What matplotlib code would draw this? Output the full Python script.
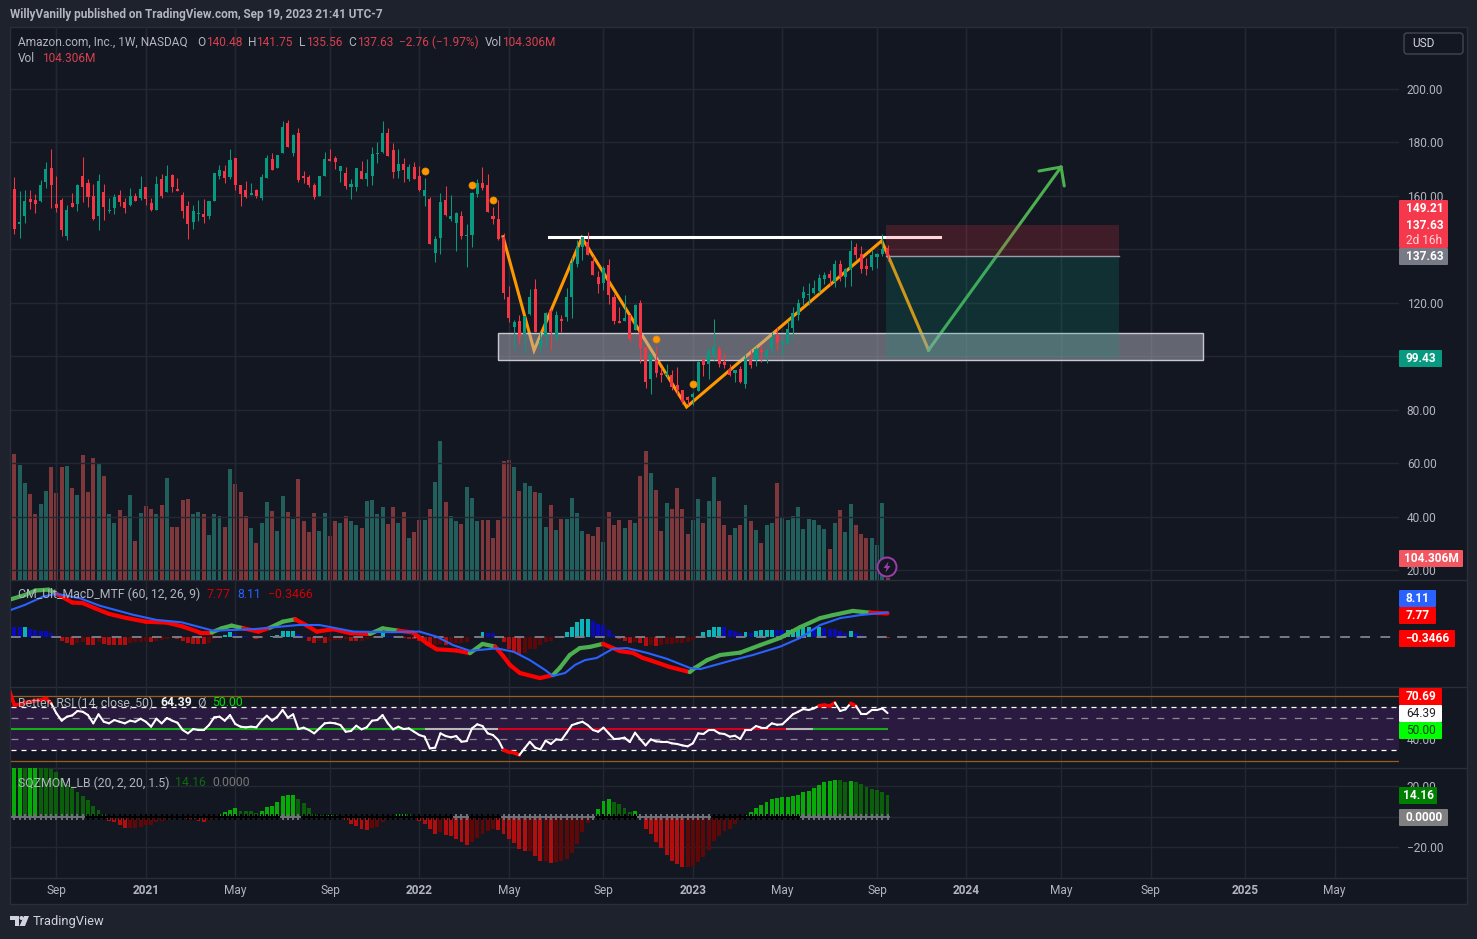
import matplotlib
matplotlib.use("Agg")
import matplotlib.pyplot as plt
import numpy as np
from matplotlib.collections import LineCollection
from matplotlib.patches import Rectangle, FancyBboxPatch, Circle, Polygon

plt.rcParams['font.family'] = ['Roboto', 'DejaVu Sans']
plt.rcParams['lines.scale_dashes'] = False

# weekly candles
opens = [146.2,162.5,149.4,152.4,158.8,158.4,158.0,165.2,170.4,156.9,
         158.4,144.9,157.3,156.9,167.4,164.8,159.9,152.4,161.4,154.3,
         155.4,160.3,157.6,156.5,159.9,159.2,163.3,157.3,154.7,166.3,
         161.4,167.8,162.5,160.3,156.2,150.2,153.2,153.2,152.4,158.0,
         167.4,169.3,167.0,174.2,164.0,162.2,160.3,162.2,159.2,166.7,
         173.8,170.4,176.0,187.3,176.0,183.5,167.4,167.0,164.0,159.9,
         167.4,173.8,174.2,169.3,168.5,163.3,163.3,169.3,166.3,167.4,
         175.7,176.4,183.5,177.2,169.3,171.9,166.3,170.8,167.4,159.9,
         158.8,138.5,144.2,158.4,151.3,149.8,152.4,144.9,145.3,160.6,
         164.8,164.0,152.4,151.3,144.7,122.1,110.8,113.1,108.2,115.7,
         125.1,103.7,107.5,116.8,107.1,113.8,114.6,122.1,134.5,140.8,
         142.7,135.6,129.6,127.3,134.1,122.1,113.1,113.1,115.3,109.7,
         119.8,103.3,91.3,98.5,93.6,92.8,92.8,89.1,87.2,84.6,
         84.9,86.8,98.5,97.0,100.3,102.6,97.7,95.1,93.6,95.1,
         89.5,98.5,98.5,102.2,100.0,102.6,107.8,104.5,104.5,110.5,
         115.3,121.7,122.8,123.6,124.3,128.8,130.7,127.7,134.5,129.6,
         132.6,140.8,138.2,133.7,133.3,137.1,138.2,140.48]
highs = [159.9,166.9,161.8,162.2,162.2,160.7,165.9,172.6,177.5,167.4,
         159.2,156.5,161.0,164.4,174.5,166.3,164.4,168.2,164.4,159.2,
         160.6,162.2,159.2,162.9,161.0,167.4,163.3,159.2,167.4,168.2,
         171.5,168.2,166.7,161.4,158.0,156.5,158.4,158.8,158.0,168.5,
         171.5,171.5,177.5,174.2,164.0,165.5,164.8,162.5,168.2,175.3,
         176.0,175.3,188.0,188.4,183.2,185.4,169.3,167.8,164.8,167.4,
         176.4,177.5,174.9,171.2,170.8,166.3,170.4,173.0,173.8,178.3,
         180.2,188.0,185.4,179.8,177.5,174.2,171.9,172.6,171.2,166.7,
         159.5,144.9,161.0,163.6,160.3,153.9,154.3,149.4,161.4,166.3,
         170.8,168.2,155.8,158.4,146.0,126.2,113.7,115.6,115.0,125.3,
         128.8,109.1,116.5,117.6,116.8,115.3,125.5,137.2,143.5,144.7,
         146.5,137.5,131.8,133.7,136.3,123.2,118.3,122.8,115.3,119.5,
         121.0,103.3,101.1,103.7,95.5,97.0,94.7,95.8,87.2,85.0,
         86.6,98.1,99.2,103.0,113.8,103.7,101.1,97.0,94.7,96.2,
         100.7,102.2,103.3,104.1,102.6,109.0,110.8,105.6,113.1,118.3,
         121.3,126.2,127.3,128.5,130.7,131.5,132.2,136.0,136.0,133.0,
         143.5,142.3,141.2,136.7,139.7,138.6,145.7,141.75]
lows = [146.2,145.7,144.2,149.8,155.0,153.5,157.6,162.9,155.4,153.9,
        144.9,143.4,155.8,154.3,157.7,155.8,150.9,147.2,150.9,153.5,
        153.2,156.2,153.5,156.2,158.0,158.4,156.5,154.3,154.7,159.2,
        161.4,161.4,161.8,151.6,143.8,147.5,150.5,149.8,151.3,158.0,
        166.3,164.8,166.3,162.2,156.2,159.2,160.3,159.2,158.4,166.7,
        169.6,170.4,176.0,178.3,174.9,165.2,164.8,163.3,158.8,159.9,
        167.4,173.0,170.0,165.2,162.5,158.8,161.8,166.3,163.6,164.0,
        172.3,176.0,174.9,166.7,166.7,165.2,165.5,166.3,161.8,156.2,
        141.9,135.2,138.2,152.4,150.5,139.3,143.8,133.3,140.8,159.5,
        162.2,153.9,149.4,143.4,121.5,112.8,102.2,104.7,101.2,115.3,
        109.0,101.2,103.7,102.2,106.0,109.0,113.1,114.2,133.3,136.0,
        137.8,130.3,123.6,124.7,119.5,112.0,112.3,113.1,105.2,109.7,
        97.3,88.0,85.7,92.1,90.2,92.1,87.2,85.3,82.0,81.6,
        81.6,86.8,92.5,91.3,98.5,95.8,95.5,92.5,90.2,89.8,
        88.0,95.5,96.2,97.7,97.3,101.1,102.2,100.7,104.5,106.7,
        113.5,119.1,119.1,123.2,123.6,127.0,126.6,125.8,128.1,125.8,
        126.2,136.3,131.1,130.3,132.2,133.0,137.5,135.56]
closes = [159.9,147.5,150.2,158.0,157.6,156.9,164.0,170.0,164.0,155.4,
          147.1,154.6,155.8,164.0,163.3,159.5,151.3,165.5,155.8,154.7,
          159.5,157.6,155.4,159.9,158.0,162.5,158.8,154.7,164.4,159.9,
          167.4,163.3,161.8,154.3,149.4,154.3,153.5,152.0,158.0,168.5,
          169.7,166.7,173.4,164.0,160.7,159.5,161.0,159.9,167.0,174.2,
          169.6,175.3,185.8,178.3,182.8,165.9,166.7,164.0,159.5,167.4,
          173.8,173.0,172.6,171.2,163.6,164.4,170.4,166.3,168.5,175.7,
          176.0,183.5,174.9,168.9,171.9,169.6,170.8,166.3,162.2,162.2,
          141.9,143.8,157.6,152.8,152.4,153.5,144.9,145.3,161.0,164.8,
          162.9,153.9,151.3,143.8,123.7,114.2,112.7,107.1,114.9,122.1,
          109.0,106.0,116.1,109.0,115.3,113.1,122.1,134.8,140.8,144.6,
          137.8,130.3,127.0,133.0,122.8,113.1,112.3,114.2,106.3,119.1,
          102.9,90.2,100.7,93.6,92.8,93.6,88.3,87.2,82.7,83.5,
          85.7,97.7,96.6,101.8,103.3,97.0,96.6,92.8,94.7,90.2,
          98.8,96.6,102.8,101.5,102.2,106.7,104.8,105.6,110.1,116.1,
          119.8,124.0,123.2,125.5,129.2,130.3,129.2,134.5,129.6,132.6,
          139.3,137.8,132.6,132.6,137.8,138.2,140.1,137.63]
# volume in millions
volumes = [120.0,171.6,156.5,131.8,116.7,89.2,102.9,120.8,153.7,118.0,
           153.7,155.1,124.9,115.3,170.2,119.4,166.1,159.2,141.4,89.2,
           78.2,94.7,87.8,115.3,53.5,90.6,100.2,96.1,89.2,101.6,
           138.6,72.7,71.4,108.4,109.8,89.2,92.0,89.2,60.4,89.2,
           87.8,72.7,151.0,130.4,119.4,86.5,70.0,49.4,78.2,105.7,
           93.3,65.9,113.9,92.0,82.4,137.3,79.6,64.5,90.6,65.9,
           90.6,59.0,79.6,78.2,87.8,79.6,74.1,70.0,107.1,108.4,
           89.2,98.8,75.5,98.8,78.2,92.0,56.3,64.5,81.0,81.0,
           96.1,133.1,189.4,105.7,86.5,79.6,75.5,126.3,111.2,79.6,
           81.0,81.0,57.6,81.0,162.0,163.3,153.7,120.8,131.8,127.6,
           119.4,118.0,72.7,101.6,67.3,82.4,82.4,111.2,90.6,65.9,
           63.1,59.0,72.7,50.8,92.0,74.1,81.0,70.0,81.0,76.9,
           141.4,175.7,145.5,122.2,65.9,104.3,96.1,124.9,96.1,63.1,
           81.0,109.8,78.2,107.1,140.0,107.1,74.1,60.4,70.0,74.1,
           101.6,79.6,67.3,49.4,74.1,76.9,131.8,85.1,81.0,86.5,
           98.8,68.6,82.4,81.0,74.1,68.6,41.2,76.9,94.7,64.5,
           102.9,74.1,61.8,56.3,57.6,46.7,104.3,1.8]

earnings_x = [79, 88, 92, 123, 130]
earnings_y = [169.3, 164.1, 158.5, 106.4, 89.7]

# drawings on the price pane
pattern_x = [93.9, 99.8, 108.9, 128.8, 165.9, 174.8]
pattern_y = [144.7, 102.2, 144.3, 81.0, 143.2, 102.3]
arrow_x = [174.8, 200.0]
arrow_y = [102.3, 170.8]
arrow_head_x = [195.8, 200.0, 200.6]
arrow_head_y = [169.3, 170.8, 163.7]
neckline_x = [102.6, 176.9]
neckline_y = 144.6
zone_x = [93, 226.9]
zone_y = [98.5, 108.6]
position_x = [166.8, 211]
stop_price = 149.21
entry_price = 137.63
target_price = 99.43

price_ticks = [200, 180, 160, 140, 120, 100, 80, 60, 40, 20]
price_labels = ['200.00', '180.00', '160.00', '', '120.00', '', '80.00', '60.00', '40.00', '20.00']
tick_x = [9, 26, 43, 61, 78, 95, 113, 130, 147, 165, 182, 200, 217, 235, 252]
tick_labels = ['Sep', '2021', 'May', 'Sep', '2022', 'May', 'Sep', '2023', 'May', 'Sep',
               '2024', 'May', 'Sep', '2025', 'May']

# MACD lines, read at knots
macd_x = [0,3,5,7.5,9,12,14,16.3,19,22.4,26,30,33,36.3,38.5,40.4,42.3,44.5,47.4,49.6,52,54.4,56.6,58.5,
          61.6,64.8,68.6,71,74,76.8,79.4,81.3,85,87.6,90,92.4,94,95.2,97.1,100.9,103.4,104.7,106.6,108.5,
          110.4,112.9,114.8,116.1,118.6,120.5,121.8,125.6,129.4,130.4,132.7,135.2,139,142.8,146.6,150.4,
          154.2,156.6,160.4,163.7,167]
macd_y = [12.3,13.9,15.4,15.7,14.3,11.4,11.2,9.5,7.6,6.2,5.0,4.7,3.4,1.4,1.4,2.8,3.7,2.8,1.7,3.0,5.0,5.8,3.7,1.7,
          2.5,1.2,0.9,2.8,2.0,1.4,-2.2,-4.2,-4.6,-5.5,-2.4,-3.3,-6.6,-9.4,-12.1,-13.8,-12.8,-10.4,-6.1,-3.8,
          -3.4,-2.4,-3.8,-4.8,-5.4,-7.1,-7.8,-10.1,-11.8,-10.4,-7.8,-6.1,-5.3,-2.8,-0.4,3.2,
          6.2,7.2,8.6,8.0,7.77]
macd_green_spans = [(0, 9), (38.5, 44.5), (49.6, 54.4), (68.6, 74), (87.6, 92.4), (103.4, 112.9), (129.4, 163.7)]
signal_x = [0,3,6.5,9,13.5,17.3,23.6,28,32.8,38.8,46.4,55,59,65.5,73,78,81.3,84.4,87.6,92.7,95.9,99,
            101.9,103.4,105.7,107.6,109.5,111.7,114.8,117.5,121.3,125.1,129.4,131.4,137.6,141.4,146.6,150.4,
            154.2,158,161.8,167]
signal_y = [8.7,10.6,13.4,14.3,12.8,10.3,7.3,5.6,4.8,2.0,2.5,3.9,3.9,1.7,1.5,1.7,0.0,-2.8,-4.7,-3.9,-5.0,-7.8,
            -11.1,-13.1,-12.1,-9.4,-7.8,-7.1,-4.0,-3.8,-5.4,-7.4,-10.4,-10.8,-7.8,-6.1,-3.3,-0.4,
            3.9,6.2,7.2,8.11]
macd_hist = [3.8,3.3,3.1,3.2,2.7,2.4,2.0,1.9,1.3,0.2,
             -1.3,-2.2,-2.9,-2.2,-1.8,-2.7,-2.75,-1.8,-2.6,-2.65,
             -2.7,-2.75,-2.8,-2.0,-1.9,-1.7,-1.3,-1.8,-1.3,-1.1,
             -0.7,-0.55,-0.9,-1.3,-2.2,-2.4,-2.45,-2.5,-2.0,-0.9,
             0.2,0.7,1.6,0.9,0.2,0.1,0.05,-0.9,-0.3,0.05,
             0.2,0.7,1.8,2.0,2.05,0.9,0.2,-1.3,-2.2,-1.4,
             -2.0,-1.3,-1.25,-1.1,-0.9,-1.3,-1.35,-1.3,-0.9,-0.4,
             0.0,1.1,0.2,0.1,-0.1,-0.4,-0.7,-0.9,-1.3,-1.7,
             -3.1,-2.7,-2.6,-2.9,-2.85,-2.2,-2.15,-1.8,-0.2,0.2,
             1.6,1.3,1.1,0.0,-1.8,-4.0,-5.3,-6.2,-5.3,-4.2,
             -4.0,-2.9,-1.8,-1.3,-0.4,0.2,1.6,3.1,4.9,5.8,
             5.85,5.1,4.1,3.8,2.4,0.7,-0.9,-1.6,-2.2,-1.8,
             -2.2,-3.1,-2.7,-3.1,-2.7,-2.4,-2.35,-2.2,-2.0,-1.9,
             -1.1,0.2,1.6,2.4,3.1,3.15,3.1,2.4,2.0,1.3,
             1.6,1.3,1.8,2.1,2.15,2.4,2.35,2.3,2.35,2.7,
             3.1,3.3,3.35,2.9,3.3,2.9,2.7,2.6,2.0,1.3,
             1.8,1.1,0.4,0.0,0.0,0.0,-0.1,-0.3466]

rsi = [86.7,71.8,72.5,74,75,75.9,76.5,78,73.4,64.1,
       57.3,61,62.2,66.3,65.6,62.5,54.8,63.2,56.3,54.8,
       57.9,56.3,54.8,57.3,56.3,59.1,56.3,51.7,59.1,54.8,
       59.7,57.3,55.4,48.6,45.5,49.5,48.6,48.6,53.2,60.4,
       61,57.3,62.5,54.2,51.7,51.1,51.7,51.1,57.3,61.9,
       57.3,61,67.2,60.1,63.2,49.5,50.8,48.6,45.5,50.1,
       54.8,55.4,54.8,53.2,47,47.7,52.6,49.2,51.1,57.3,
       57.9,62.5,54.8,49.2,51.7,49.5,50.1,47,43.9,42.4,
       31.5,32.2,45.5,43,41.8,43,37.7,38.3,50.1,53.9,
       52.3,45.5,43.9,39.3,29.9,28.1,27.5,25.3,31.5,37.7,
       32.2,30.6,38.7,35.6,39.9,39.3,46.1,53.2,54.8,56.3,
       53.2,48.6,47,50.8,45.5,40.2,40.5,41.5,37.4,46.1,
       39.9,34.3,39.9,38,37.7,37.7,36.2,35.6,34.3,33.4,
       36.2,45.5,44.9,48.6,48.6,45.5,44.9,42.4,43.3,40.2,
       48.6,48.6,52.3,50.8,50.8,54.8,53.5,53.9,58.5,63.2,
       65.6,68.1,67.2,68.7,71.2,71.8,70.9,74,66.3,67.8,
       73.4,70.9,63.5,63.5,67.2,67.2,68.7,64.39]
rsi_levels_outer = [80, 20]
rsi_levels_dash_white = [70, 30]
rsi_levels_dash_grey = [60, 40]
rsi_ma_spans = [(0, 79, '#12b012'), (79, 93, '#b8b8b8'), (93, 147.7, '#d5001c'),
                (147.7, 152.8, '#b8b8b8'), (152.8, 167, '#12b012')]

sqz = [33,34,35,34,35,36,35,34,31.1,29.3,
       25,20.7,18.5,16.3,13.7,11.1,6.7,4.6,1.7,-2.6,
       -3.5,-5.4,-7.2,-7.2,-7.1,-6.5,-5.7,-5.2,-3.7,-2.6,
       -2,-0.9,-0.7,-1.1,-1.5,-1.7,-3,-3.3,-2.4,-1.5,
       2,3.3,4.6,5.4,3.9,3.8,3.7,2.6,3.9,6.1,
       7.2,9.8,13.3,13.9,14.3,11.7,9.1,5.9,2,1.3,
       1.1,1.3,1.2,0.7,-2.4,-4.6,-5.9,-7.8,-8.5,-7.2,
       -6.7,-3.3,-1.1,0.7,1.5,1.7,1.5,0.2,-2.8,-4.6,
       -7.8,-11.1,-10,-12,-12.8,-14.3,-16.3,-18.3,-16.3,-13.7,
       -11.1,-9.1,-7.8,-8.5,-11.1,-14.3,-17,-20.9,-22.2,-22.1,
       -25.4,-28.7,-28.6,-30,-29.3,-29.1,-27.4,-23.5,-17.6,-9.8,
       -3.9,-0.2,5.2,10.4,11.7,9.8,8.5,5.9,3.3,3.4,
       -0.2,-7.8,-11.1,-16.3,-20.2,-24.8,-28.7,-30.7,-32.6,-32.6,
       -32,-29.3,-26.1,-22,-15.7,-12.4,-9.1,-7.8,-4.6,-1.5,
       1.3,3.3,5.9,7.8,9.8,11.7,12.4,12.5,13,13.7,
       14.3,16.3,17,18.9,20.9,22.8,23.5,24.1,24,22.8,
       23.4,22.8,21.5,19.6,18.3,17.6,16.3,14.16]
sqz_grey_spans = [(0, 14), (52, 55), (85, 87), (94, 111), (120, 133), (151, 167)]

# pixel layout of the screen
W, H = 1477, 939
L, R = 10.5, 1398.5
TOP, DIV1, DIV2, DIV3, BOT = 27, 579.5, 686.7, 768.3, 878
x_lim = ((L - 9.1) / 5.26, (R - 9.1) / 5.26)

bg_dark = '#131722'
bg_frame = '#1e222d'
grid_col = '#232732'
div_col = '#2a2e39'
text_col = '#b2b5be'
up_col = '#089981'
down_col = '#f23645'

fig = plt.figure(figsize=(W / 100, H / 100), dpi=100, facecolor=bg_frame)


def pane(top, bottom, ylim, z=1):
    ax = fig.add_axes([L / W, 1 - bottom / H, (R - L) / W, (bottom - top) / H], zorder=z)
    ax.patch.set_visible(False)
    for s in ax.spines.values():
        s.set_visible(False)
    ax.set_xlim(*x_lim)
    ax.set_ylim(*ylim)
    ax.set_xticks(tick_x)
    ax.tick_params(length=0, labelbottom=False, labelleft=False)
    ax.yaxis.tick_right()
    ax.tick_params(axis='y', labelright=True, labelcolor=text_col, labelsize=8.6, pad=6)
    ax.grid(axis='x', color=grid_col, lw=1)
    ax.set_axisbelow(True)
    return ax


def colored_line(ax, x, y, colors, lw, z=3):
    pts = np.column_stack([x, y])
    segs = np.stack([pts[:-1], pts[1:]], axis=1)
    lc = LineCollection(segs, colors=colors, linewidths=lw, capstyle='round', zorder=z)
    ax.add_collection(lc)


def in_spans(v, spans):
    return any(a <= v <= b for a, b in spans)


# full size axes in screen pixels for the frame and the price labels
bg = fig.add_axes([0, 0, 1, 1], zorder=-5)
bg.set_xlim(0, W)
bg.set_ylim(H, 0)
bg.axis('off')
bg.add_patch(Rectangle((L - 1, TOP), 1466.5 - L + 1, 904 - TOP, fc=bg_dark, ec=div_col, lw=1))
for yy in [DIV1, DIV2, DIV3, BOT]:
    bg.plot([L, 1466.5], [yy, yy], color=div_col, lw=1)

x = np.arange(len(closes))
opens = np.array(opens)
closes = np.array(closes)
up = closes >= opens
candle_cols = [up_col if u else down_col for u in up]

# volume
vol_ax = pane(TOP, DIV1, (0, 758), z=1)
vol_ax.set_yticks([])
vol_ax.bar(x, volumes, width=0.76, color=['#225e5b' if u else '#7e383c' for u in up], zorder=2)

# price
ax = pane(TOP, DIV1, (16.43, 223.2), z=2)
ax.set_yticks(price_ticks)
ax.set_yticklabels(price_labels)
ax.grid(axis='y', color=grid_col, lw=1)
ax.plot(pattern_x, pattern_y, color='#ff9800', lw=2.2, zorder=3, solid_joinstyle='miter')
ax.plot(arrow_x, arrow_y, color='#4caf50', lw=2.2, zorder=3)
ax.plot(arrow_head_x, arrow_head_y, color='#4caf50', lw=2.2, zorder=3, solid_capstyle='round')
ax.add_patch(Rectangle((zone_x[0], zone_y[0]), zone_x[1] - zone_x[0], zone_y[1] - zone_y[0],
                       fc=(0.70, 0.71, 0.745, 0.5), ec='#c8c9d0', lw=1, zorder=4))
ax.plot(neckline_x, [neckline_y, neckline_y], color='white', lw=2.2, zorder=4.5)
ax.add_patch(Rectangle((position_x[0], entry_price), position_x[1] - position_x[0], stop_price - entry_price,
                       fc=down_col, alpha=0.2, lw=0, zorder=5))
ax.add_patch(Rectangle((position_x[0], target_price), position_x[1] - position_x[0], entry_price - target_price,
                       fc=up_col, alpha=0.2, lw=0, zorder=5))
ax.plot(position_x, [entry_price, entry_price], color='#9a9da6', lw=1, zorder=5)
ax.vlines(x, lows, highs, colors=candle_cols, lw=0.75, zorder=7)
ax.bar(x, np.abs(closes - opens), bottom=np.minimum(opens, closes), width=0.58, color=candle_cols, zorder=8)
ax.scatter(earnings_x, earnings_y, s=26, color='#ff9800', edgecolors='#e08600', lw=0.5, zorder=9)

# MACD
macd_ax = pane(DIV1, DIV2, (-16.67, 19.07))
macd_ax.set_yticks([])
hist_cols = []
for i, v in enumerate(macd_hist):
    prev = macd_hist[i - 1] if i else v
    if v >= 0:
        hist_cols.append('#0bb4b8' if v >= prev else '#0a0ab8')
    else:
        hist_cols.append('#b30d0d' if v < prev else '#5c0808')
macd_ax.bar(x, macd_hist, width=0.76, color=hist_cols, zorder=2)
macd_ax.plot(x_lim, [0, 0], color='#787b86', lw=1.4, ls=(0, (7, 7.5)), zorder=2)
mx = np.array(macd_x)
mid = (mx[:-1] + mx[1:]) / 2
colored_line(macd_ax, macd_x, macd_y,
             ['#4caf50' if in_spans(m, macd_green_spans) else '#ff0000' for m in mid], 3.0, z=3)
macd_ax.plot(signal_x, signal_y, color='#2962ff', lw=1.5, zorder=4)

# RSI
rsi_ax = pane(DIV2, DIV3, (12.98, 88.9))
rsi_ax.set_yticks([40])
rsi_ax.set_yticklabels(['40.00'])
rsi_ax.axhspan(30, 70, color='#2a1a3f', zorder=1, lw=0)
for lvl in rsi_levels_outer:
    rsi_ax.axhline(lvl, color='#9c5a1d', lw=0.9, zorder=2)
for lvl in rsi_levels_dash_white:
    rsi_ax.axhline(lvl, color='white', lw=0.9, ls=(0, (3.6, 3.6)), zorder=2)
for lvl in rsi_levels_dash_grey:
    rsi_ax.axhline(lvl, color='#8b8b95', lw=0.9, ls=(0, (5, 6)), zorder=2)
for a, b, c in rsi_ma_spans:
    rsi_ax.plot([a, b], [50, 50], color=c, lw=1.5, zorder=3, solid_capstyle='butt')
rr = np.array(rsi)
rsi_cols = []
rsi_lws = []
for a, b in zip(rr[:-1], rr[1:]):
    hot = min(a, b) > 70 or max(a, b) < 30
    rsi_cols.append('#ff0000' if hot else 'white')
    rsi_lws.append(2.6 if hot else 1.5)
colored_line(rsi_ax, x, rr, rsi_cols, rsi_lws, z=4)

# squeeze momentum
sqz_ax = pane(DIV3, BOT, (-39.9, 31.5))
sqz_ax.set_yticks([20, 0, -20])
sqz_ax.set_yticklabels(['20.00', '', '\u221220.00'])
sqz_ax.grid(axis='y', color=grid_col, lw=1)
sqz_ax.tick_params(axis='x', labelbottom=True, labelcolor=text_col, labelsize=8.6, pad=4)
sqz_ax.set_xticklabels(tick_labels)
for lab, name in zip(sqz_ax.get_xticklabels(), tick_labels):
    if name.isdigit():
        lab.set_fontweight('bold')
sqz_cols = []
for i, v in enumerate(sqz):
    prev = sqz[i - 1] if i else v
    if v >= 0:
        sqz_cols.append('#08aa08' if v >= prev else '#0b5f0b')
    else:
        sqz_cols.append('#b30d0d' if v < prev else '#600808')
sqz_ax.bar(x, sqz, width=0.74, color=sqz_cols, zorder=2)
dot_cols = ['#6f7278' if in_spans(i, sqz_grey_spans) else '#000000' for i in x]
sqz_ax.scatter(x, np.zeros(len(x)), marker='+', s=18, c=dot_cols, lw=1.4, zorder=3)
for a, b in sqz_grey_spans:
    sqz_ax.plot([a, b], [0, 0], color='#6f7278', lw=1.2, zorder=3)

# everything written on top of the panes
top = fig.add_axes([0, 0, 1, 1], zorder=10)
top.set_xlim(0, W)
top.set_ylim(H, 0)
top.axis('off')


def label(px, py, s, color=text_col, size=8.6, weight='normal', ha='left'):
    top.text(px, py, s, color=color, fontsize=size, fontweight=weight, ha=ha, va='center')


def price_box(x0, x1, y0, y1, col):
    top.add_patch(FancyBboxPatch((x0 + 1, y0 + 1), x1 - x0 - 2, y1 - y0 - 2,
                                 boxstyle='round,pad=1,rounding_size=1', fc=col, ec='none', zorder=2))


label(10, 14.5, 'WillyVanilly published on TradingView.com, Sep 19, 2023 21:41 UTC-7', weight='bold', size=8.5)

red_txt = '#d8404e'
label(17.5, 42, 'Amazon.com, Inc., 1W, NASDAQ', size=8.6)
for px, s in [(197, 'O'), (248, 'H'), (299, 'L'), (348, 'C'), (485, 'Vol')]:
    label(px, 42, s, size=8.6)
for px, s in [(206, '140.48'), (256, '141.75'), (306, '135.56'), (357, '137.63'),
              (399, '\u22122.76 (\u22121.97%)'), (502, '104.306M')]:
    label(px, 42, s, color=red_txt, size=8.6)
label(17.5, 59, 'Vol', size=8.6)
label(42, 59, '104.306M', color=red_txt, size=8.6)

label(17.5, 594, 'CM_Ult_MacD_MTF (60, 12, 26, 9)', size=8.8)
label(207, 594, '7.77', color='#d40000', size=8.8)
label(237, 594, '8.11', color='#2962ff', size=8.8)
label(268, 594, '\u22120.3466', color='#d40000', size=8.8)

label(17.5, 703, 'Better_RSI (14, close, 50)', size=8.8)
label(160, 703, '64.39', color='#f0f0f0', weight='bold', size=8.8)
label(197, 703, '\u00d8', size=8.8)
label(212, 703, '50.00', color='#00e000', size=8.8)

label(17.5, 783, 'SQZMOM_LB (20, 2, 20, 1.5)', size=8.8)
label(175, 783, '14.16', color='#0b6b0b', size=8.8)
label(212, 783, '0.0000', color='#777777', size=8.8)

# right hand price labels
price_box(1399, 1448, 200, 248, '#f5384b')
label(1424.5, 208.5, '149.21', color='white', weight='bold', ha='center')
label(1424.5, 225.5, '137.63', color='white', weight='bold', ha='center')
label(1424.5, 240, '2d 16h', color='#ffd5d8', ha='center')
price_box(1399, 1448, 248, 265, '#787b86')
label(1424.5, 256.5, '137.63', color='white', weight='bold', ha='center')
price_box(1399, 1442, 350, 367, up_col)
label(1421, 358.5, '99.43', color='white', weight='bold', ha='center')
price_box(1399, 1463, 550, 567, '#f25660')
label(1431, 558.5, '104.306M', color='white', weight='bold', ha='center')
price_box(1399, 1436, 590, 607, '#2962ff')
label(1418, 598.5, '8.11', color='white', weight='bold', ha='center')
price_box(1399, 1436, 607, 624, '#ff0000')
label(1418, 615.5, '7.77', color='white', weight='bold', ha='center')
price_box(1399, 1455, 630, 647, '#ff0000')
label(1427.5, 638.5, '\u22120.3466', color='white', weight='bold', ha='center')
price_box(1399, 1442, 688, 705, '#ff0000')
label(1421, 696.5, '70.69', color='white', weight='bold', ha='center')
price_box(1399, 1442, 705, 722, '#ffffff')
label(1421, 713.5, '64.39', color='#222222', ha='center')
price_box(1399, 1442, 722, 739, '#00ff00')
label(1421, 730.5, '50.00', color='#1a3a1a', ha='center')
price_box(1399, 1437, 787, 804, '#008000')
label(1418.5, 795.5, '14.16', color='white', weight='bold', ha='center')
price_box(1399, 1448, 809, 826, '#808080')
label(1424, 817.5, '0.0000', color='white', weight='bold', ha='center')

# USD button
top.add_patch(FancyBboxPatch((1404, 33), 59, 21, boxstyle='round,pad=0,rounding_size=3',
                             fc=bg_dark, ec='#434651', lw=1))
label(1412, 43.5, 'USD', color='#d1d4dc', size=8.6)

# lightning icon
top.add_patch(Circle((887, 567), 9.5, fc=bg_dark, ec='#9c3dab', lw=1.4))
top.add_patch(Polygon([(888.5, 561.5), (883.5, 568), (886.5, 568), (885.5, 572.5), (890.5, 566), (887.5, 566)],
                      fc='#9c3dab', ec='none'))

# logo and footer
top.add_patch(Polygon([(10, 916), (19, 916), (19, 926), (14.5, 926), (14.5, 920), (10, 920)], fc='#d1d4dc', ec='none'))
top.add_patch(Circle((21.5, 918), 2, fc='#d1d4dc', ec='none'))
top.add_patch(Polygon([(24, 916), (29, 916), (25, 926), (19.5, 926)], fc='#d1d4dc', ec='none'))
label(32.5, 922, 'TradingView', color='#d1d4dc', size=9.3)

fig.savefig('out.png', dpi=100, facecolor=fig.get_facecolor())
